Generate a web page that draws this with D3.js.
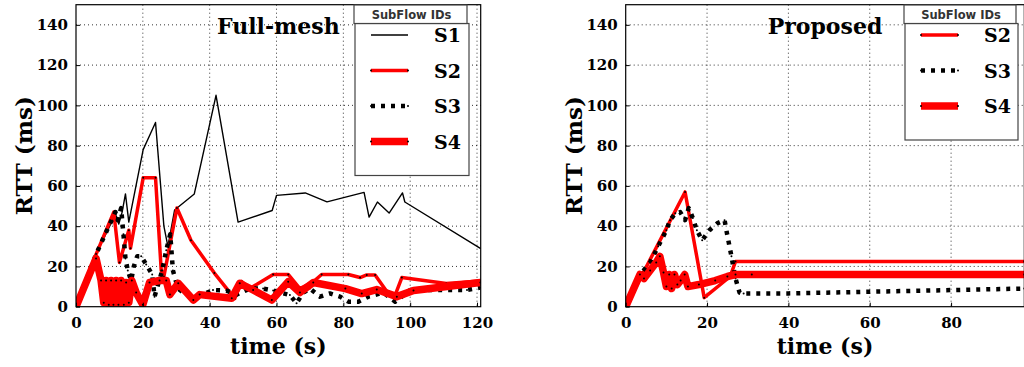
<!DOCTYPE html>
<html>
<head>
<meta charset="utf-8" />
<title>RTT per subflow</title>
<style>
body { margin: 0; background: #fff; }
svg text { font-family: "DejaVu Serif", serif; font-weight: bold; fill: #000; }
</style>
</head>
<body>
<svg id="svg" width="1024" height="367"></svg>
<script src="https://cdn.jsdelivr.net/npm/d3@7"></script>
<script>
// tick labels
var yTicks = [0, 20, 40, 60, 80, 100, 120, 140];
var fullTicks = [0, 20, 40, 60, 80, 100, 120];
var propTicks = [0, 20, 40, 60, 80];

// Full-mesh panel, [time s, RTT ms]
var fullS1 = [[0,0],[6,26],[11.8,46],[12.8,41],[13.8,47],[14.8,56],[15.8,42],[20.1,78],[22.3,86],[23.8,91.5],
  [26.3,40],[27.5,30],[29.5,48],[35.4,56],[41.9,105],[48.5,42],[58.7,47.8],[60,55.3],[68.6,56.5],[75.1,52.1],
  [86.2,56.8],[87.7,44.5],[90.2,52],[93.7,46.5],[97.7,56.5],[98.4,52],[121,29]];
var fullS2 = [[0,0],[6,26],[11.3,47],[13,22],[15.8,38],[16.3,29],[20.1,64],[23.8,64],[25.5,18],[26.3,15],
  [30.2,49],[34.4,33],[41.4,16.7],[47.5,4],[49.5,12.6],[52,9],[59,16],[63.5,16],[67,9],[71,12.4],[73.5,16],
  [81.5,16],[85,14.5],[87,15.8],[89.5,15.8],[93,7.6],[95.5,5.8],[97.5,14.5],[110.8,11.5],[121,12.8]];
var fullS3 = [[0,0],[6,26],[9,37],[11.8,47],[12.5,43],[13.5,49],[14.2,36],[14.8,24],[15.5,18],[16.5,13],
  [17.3,20],[18.3,25],[19.5,25],[21,21],[22.8,16],[23.5,5],[25.8,18],[27,28],[28.2,36],[29,18],[30.5,9],
  [33,6],[38,6],[41,8.3],[45,8],[48,6],[52,9],[56,9],[59,8],[64,5.8],[66,1.7],[68,7],[70,9],[73,5],[76,6.6],
  [79,5],[81.5,2.5],[84.5,2.5],[87.5,5],[92,7],[95.5,2.5],[100,8.3],[117,8.3],[121,9.5]];
var fullS4 = [[0,0],[6,24],[7.5,13],[8.3,2],[9,13],[9.8,1],[10.5,13],[11.2,1],[12,13],[12.7,1],[13.5,13],
  [14.3,1],[15,12],[15.8,2],[16.7,13],[18,7],[20,1],[22,12],[25,13],[27,13],[28.1,6],[30.6,11.6],[35.1,3.3],
  [37,6],[46.6,4.2],[49,11.6],[53,8.3],[58.6,3.3],[63.5,12.4],[67,7],[71,12],[80.6,9],[85.5,6.5],[90,8.5],
  [96,5],[101,8],[121,12]];

// Proposed panel
var propS2 = [[0,0],[14.6,57],[19.3,4.5],[25.7,15],[27,22.5],[98,22.5]];
var propS3 = [[0,0],[4,17],[6,22],[8,30],[10,38],[10.9,43],[12.2,46.4],[13.4,47],[14.6,43],[15.5,49],
  [16.5,44],[17.5,38],[18.8,33],[20.6,38],[22.5,41.4],[24.3,43],[24.9,36.4],[26,25],[27,14],[28,7],
  [29,6.5],[40,6.6],[98,9]];
var propS4 = [[0,0],[3.5,16],[4.5,14],[6,18],[7.5,22],[8.4,25],[9.3,17],[10,10],[10.7,16],[11.3,9],
  [12,16],[12.7,11],[13.5,13],[14.5,16],[15.3,10],[18,11],[22,13],[25,15],[27,16],[31,16],[98,16]];

var styles = {
  S1: { color: "#000", width: 1.4, dash: null, dots: false },
  S2: { color: "#f00", width: 3.5, dash: null, dots: true },
  S3: { color: "#000", width: 4.5, dash: "4,6", dots: true },
  S4: { color: "#f00", width: 7.5, dash: null, dots: true }
};

var svg = d3.select("#svg");
var yTop = 4.7, yBottom = 306.7;

function panel(id, left, right, xmax, xticks, title, series) {
  var x = d3.scaleLinear().domain([0, xmax]).range([left, right]);
  var y = d3.scaleLinear().domain([0, 150]).range([yBottom, yTop]);
  var g = svg.append("g");

  svg.append("clipPath").attr("id", "clip" + id).append("rect")
    .attr("x", left).attr("y", yTop).attr("width", right - left).attr("height", yBottom - yTop);

  // dotted grid
  g.selectAll(".gx").data(xticks.filter(d => d > 0)).enter().append("line")
    .attr("x1", d => x(d)).attr("x2", d => x(d)).attr("y1", yTop).attr("y2", yBottom)
    .attr("stroke", "#000").attr("stroke-width", 0.8).attr("stroke-dasharray", "1,3");
  g.selectAll(".gy").data(yTicks.filter(d => d > 0)).enter().append("line")
    .attr("x1", left).attr("x2", right).attr("y1", d => y(d)).attr("y2", d => y(d))
    .attr("stroke", "#000").attr("stroke-width", 0.8).attr("stroke-dasharray", "1,3");

  var line = d3.line().x(d => x(d[0])).y(d => y(d[1]));
  var plot = g.append("g").attr("clip-path", "url(#clip" + id + ")");
  series.forEach(function(s) {
    var st = styles[s.name];
    plot.append("path").datum(s.data).attr("d", line)
      .attr("fill", "none").attr("stroke", st.color).attr("stroke-width", st.width)
      .attr("stroke-linejoin", "round").attr("stroke-linecap", st.dash ? "butt" : "round")
      .attr("stroke-dasharray", st.dash);
    if (st.dots) {
      plot.selectAll(null).data(s.data).enter().append("circle")
        .attr("cx", d => x(d[0])).attr("cy", d => y(d[1])).attr("r", 1).attr("fill", "#000");
    }
  });

  // axes
  var ax = g.append("g").attr("transform", "translate(0," + yBottom + ")")
    .call(d3.axisBottom(x).tickValues(xticks).tickSize(-4).tickPadding(7).tickFormat(d3.format("d")));
  var ay = g.append("g").attr("transform", "translate(" + left + ",0)")
    .call(d3.axisLeft(y).tickValues(yTicks).tickSize(-4).tickPadding(5).tickFormat(d3.format("d")));
  [ax, ay].forEach(function(a) {
    a.select(".domain").remove();
    a.selectAll("text").style("font-size", "15px");
  });
  ax.selectAll("text").attr("dy", "0.95em");
  ay.selectAll("text").attr("dx", "-3px");

  g.append("rect").attr("x", left).attr("y", yTop).attr("width", right - left).attr("height", yBottom - yTop)
    .attr("fill", "none").attr("stroke", "#000").attr("stroke-width", 1.2);

  var cx = (left + right) / 2;
  g.append("text").attr("x", cx).attr("y", 34).attr("text-anchor", "middle")
    .style("font-size", "22px").text(title);
  g.append("text").attr("x", cx).attr("y", 354).attr("text-anchor", "middle")
    .style("font-size", "22px").text("time (s)");
  g.append("text").attr("transform", "translate(" + (left - 44) + "," + ((yTop + yBottom) / 2) + ") rotate(-90)")
    .attr("text-anchor", "middle").style("font-size", "23px").text("RTT (ms)");
  return g;
}

function legend(x0, x1, names) {
  var g = svg.append("g");
  var rowH = 35.5, y0 = 23.5;
  var h = names.length * rowH + 10;
  g.append("rect").attr("x", x0 + 1).attr("y", y0).attr("width", x1 - x0 - 1).attr("height", h)
    .attr("fill", "#fff").attr("stroke", "#444").attr("stroke-width", 1.2);
  g.append("rect").attr("x", x0).attr("y", 5).attr("width", x1 - x0 - 2).attr("height", y0 - 5)
    .attr("fill", "#fff").attr("stroke", "#444").attr("stroke-width", 1.2);
  g.append("text").attr("x", (x0 + x1) / 2).attr("y", 18.5).attr("text-anchor", "middle")
    .style("font-family", "'DejaVu Sans', sans-serif").style("font-size", "11.5px").style("fill", "#333")
    .text("SubFlow IDs");
  names.forEach(function(n, i) {
    var st = styles[n];
    var yy = 35 + i * rowH;
    var lx0 = x0 + 17, lx1 = x0 + 54;
    g.append("line").attr("x1", lx0).attr("x2", lx1).attr("y1", yy).attr("y2", yy)
      .attr("stroke", st.color).attr("stroke-width", st.width)
      .attr("stroke-linecap", "butt").attr("stroke-dasharray", st.dash);
    if (st.dots) {
      g.selectAll(null).data([lx0, lx1]).enter().append("circle")
        .attr("cx", d => d).attr("cy", yy).attr("r", 1).attr("fill", "#000");
    }
    g.append("text").attr("x", x0 + 80).attr("y", yy + 7).style("font-size", "19px").text(n);
  });
}

panel("a", 76, 480.7, 121.1, fullTicks, "Full-mesh",
  [{ name: "S1", data: fullS1 }, { name: "S2", data: fullS2 }, { name: "S3", data: fullS3 }, { name: "S4", data: fullS4 }]);
panel("b", 625.7, 1024.3, 98, propTicks, "Proposed",
  [{ name: "S2", data: propS2 }, { name: "S3", data: propS3 }, { name: "S4", data: propS4 }]);

legend(354, 469, ["S1", "S2", "S3", "S4"]);
legend(904, 1018, ["S2", "S3", "S4"]);
</script>
</body>
</html>
